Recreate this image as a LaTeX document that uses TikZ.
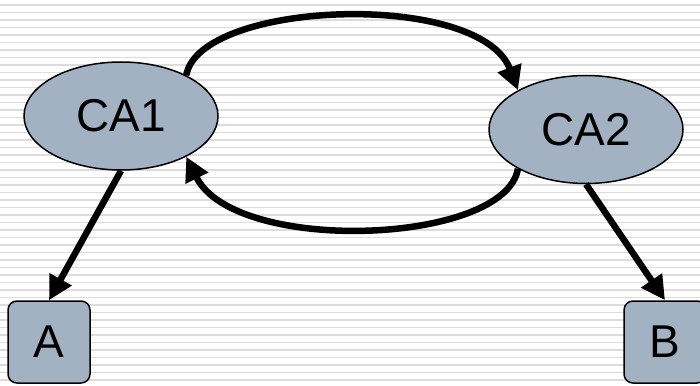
\documentclass[tikz,border=0pt]{standalone}
\usepackage{fontspec}
\setmainfont{Liberation Sans}
\usetikzlibrary{shapes.geometric,arrows.meta}
\definecolor{nodefill}{RGB}{163,178,194}
\definecolor{stripe}{RGB}{220,220,220}
\tikzset{
  ca/.style={ellipse, draw=black, line width=1.5pt, fill=nodefill, minimum width=194pt, minimum height=108pt, inner sep=0pt, font=\fontsize{46}{46}\selectfont},
  leaf/.style={rectangle, rounded corners=9pt, draw=black, line width=1.5pt, fill=nodefill, minimum width=82pt, minimum height=82pt, inner sep=0pt, font=\fontsize{46}{46}\selectfont},
  conn/.style={line width=6.5pt, -{Triangle[length=24pt,width=24pt]}}
}
\begin{document}
\begin{tikzpicture}[x=1pt,y=-1pt]
\useasboundingbox (0,0) rectangle (700,385);
\fill[white] (0,0) rectangle (700,385);
\foreach \i in {0,...,51} {
  \draw[stripe, line width=1.5pt] (0,5+7.5*\i) -- (700,5+7.5*\i);
}
\node[ca] (ca1) at (121,116) {CA1};
\node[ca] (ca2) at (586,129.5) {CA2};
\node[leaf] (a) at (49,342) {A};
\node[leaf] (b) at (665,342) {B};
\draw[conn] (ca1.32) .. controls (200,0) and (480,-10) .. (ca2.150);
\draw[conn] (ca2.210) .. controls (505,245) and (235,255) .. (ca1.-32);
\draw[conn] (ca1.south) -- (a.north);
\draw[conn] (ca2.south) -- (b.north);
\end{tikzpicture}
\end{document}
